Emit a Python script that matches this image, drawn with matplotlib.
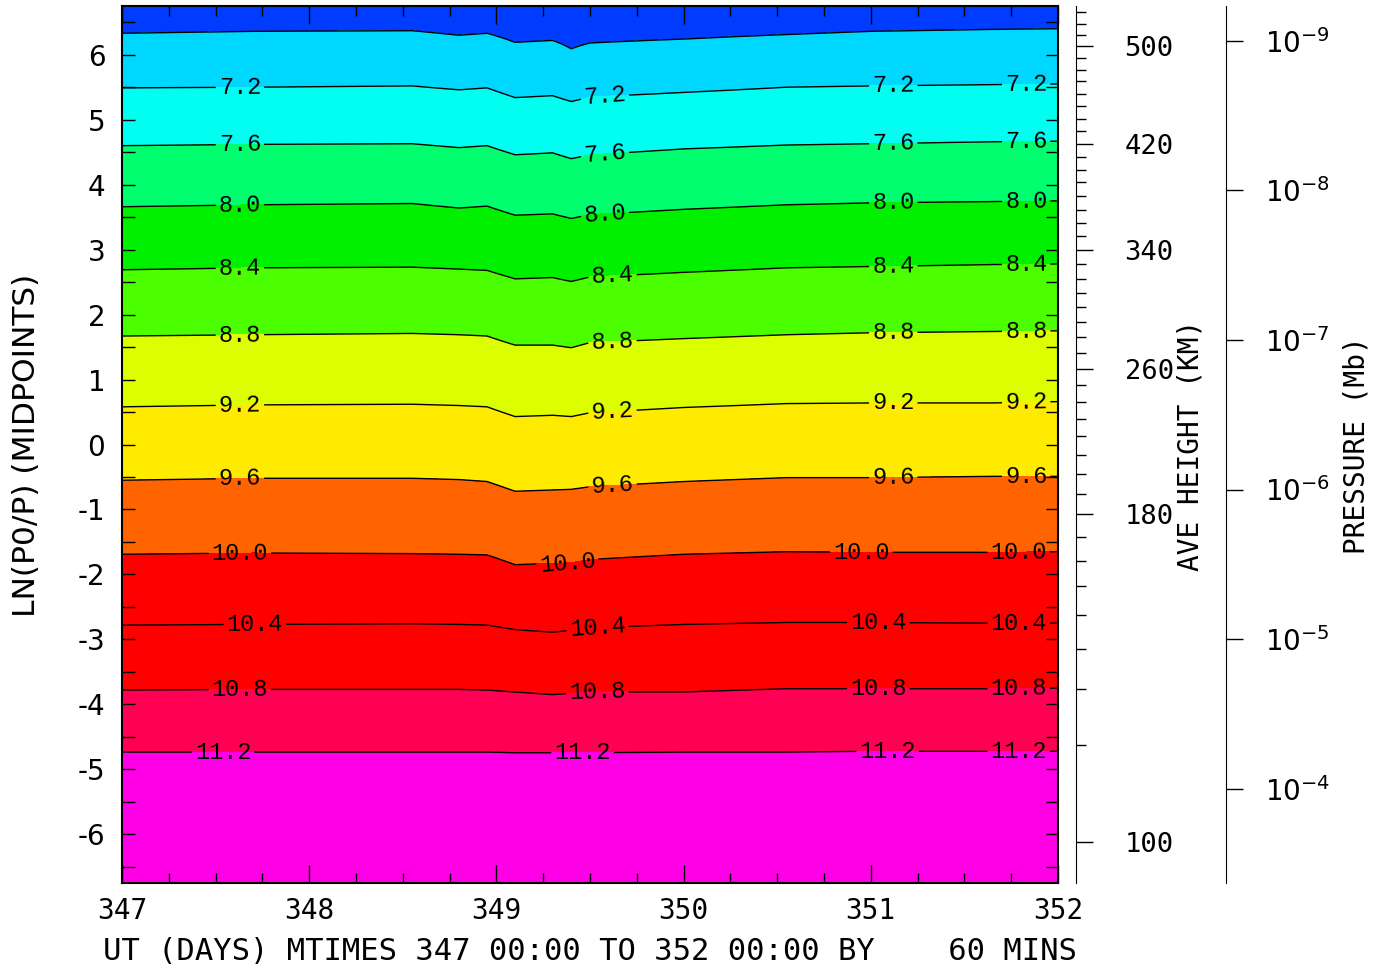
import numpy as np
import matplotlib.pyplot as plt

days = [347.0, 347.7, 348.55, 348.8, 348.95, 349.1, 349.3, 349.4, 349.5,
        350.0, 350.55, 351.0, 351.65, 352.0]

levels = [6.8, 7.2, 7.6, 8.0, 8.4, 8.8, 9.2, 9.6, 10.0, 10.4, 10.8, 11.2]

# LN(P0/P) position of each contour line at the days above
line_z = [
    [6.33, 6.36, 6.37, 6.30, 6.33, 6.19, 6.22, 6.09, 6.18, 6.24, 6.31, 6.36, 6.39, 6.40],
    [5.49, 5.50, 5.52, 5.46, 5.49, 5.34, 5.37, 5.28, 5.35, 5.42, 5.50, 5.52, 5.54, 5.55],
    [4.60, 4.62, 4.63, 4.57, 4.60, 4.46, 4.49, 4.40, 4.46, 4.55, 4.61, 4.63, 4.66, 4.67],
    [3.66, 3.69, 3.71, 3.64, 3.67, 3.53, 3.55, 3.48, 3.54, 3.62, 3.69, 3.72, 3.74, 3.75],
    [2.69, 2.72, 2.73, 2.70, 2.68, 2.55, 2.57, 2.51, 2.58, 2.65, 2.72, 2.74, 2.77, 2.78],
    [1.67, 1.69, 1.71, 1.69, 1.67, 1.53, 1.53, 1.49, 1.57, 1.63, 1.69, 1.72, 1.74, 1.75],
    [0.58, 0.61, 0.62, 0.60, 0.58, 0.43, 0.45, 0.43, 0.49, 0.57, 0.63, 0.64, 0.64, 0.66],
    [-0.55, -0.52, -0.52, -0.54, -0.57, -0.72, -0.70, -0.69, -0.65, -0.57, -0.51, -0.51, -0.49, -0.49],
    [-1.69, -1.67, -1.68, -1.69, -1.70, -1.85, -1.83, -1.82, -1.77, -1.69, -1.65, -1.66, -1.66, -1.65],
    [-2.78, -2.77, -2.76, -2.77, -2.78, -2.85, -2.89, -2.86, -2.82, -2.77, -2.74, -2.74, -2.75, -2.75],
    [-3.78, -3.77, -3.77, -3.77, -3.78, -3.81, -3.85, -3.83, -3.81, -3.81, -3.76, -3.76, -3.76, -3.75],
    [-4.73, -4.73, -4.73, -4.73, -4.73, -4.74, -4.74, -4.74, -4.74, -4.73, -4.73, -4.72, -4.72, -4.72],
]

# values just outside the plotted range (top / bottom)
edge_z = [7.2, -7.2]
edge_val = [6.4, 11.6]

band_colors = ['#003cff', '#00d7ff', '#00fff0', '#00ff6e', '#00f000', '#4bff00',
               '#dcff00', '#ffeb00', '#ff6400', '#ff0000', '#ff0000', '#ff0055', '#ff00e6']

# average height axis (km) and where each tick sits in LN(P0/P)
heights = [530, 520, 510, 500, 490, 480, 470, 460, 450, 440, 430, 420, 410, 400,
           390, 380, 370, 360, 350, 340, 330, 320, 310, 300, 290, 280, 270, 260,
           250, 240, 230, 220, 210, 200, 190, 180, 170, 160, 150, 140, 130, 120,
           110, 100]
height_z = [6.657, 6.477, 6.308, 6.128, 5.949, 5.769, 5.589, 5.395, 5.205, 5.015,
            4.820, 4.626, 4.420, 4.231, 4.035, 3.820, 3.615, 3.411, 3.205, 3.000,
            2.780, 2.554, 2.334, 2.118, 1.882, 1.657, 1.411, 1.165, 0.923, 0.657,
            0.395, 0.128, -0.165, -0.451, -0.758, -1.077, -1.426, -1.795, -2.180,
            -2.631, -3.154, -3.758, -4.626, -6.112]
height_major = [500, 420, 340, 260, 180, 100]

p0 = 5e-7  # mb
pressure_exp = [-9, -8, -7, -6, -5, -4]

day_ticks = [347, 348, 349, 350, 351, 352]

# label positions (days) along each labelled line (7.2 .. 11.2)
label_days = [
    [347.63, 349.58, 351.12, 351.83],
    [347.63, 349.58, 351.12, 351.83],
    [347.63, 349.58, 351.12, 351.83],
    [347.63, 349.62, 351.12, 351.83],
    [347.63, 349.62, 351.12, 351.83],
    [347.63, 349.62, 351.12, 351.83],
    [347.63, 349.62, 351.12, 351.83],
    [347.63, 349.38, 350.95, 351.79],
    [347.71, 349.54, 351.04, 351.79],
    [347.63, 349.54, 351.04, 351.79],
    [347.54, 349.46, 351.09, 351.79],
]

# ---- build field on (z, day) grid ----
zgrid = np.linspace(-6.75, 6.75, 541)
lz = np.array(line_z)
field = np.empty((len(zgrid), len(days)))
for j in range(len(days)):
    zp = np.concatenate(([edge_z[0]], lz[:, j], [edge_z[1]]))[::-1]
    vp = np.concatenate(([edge_val[0]], levels, [edge_val[1]]))[::-1]
    field[:, j] = np.interp(zgrid, zp, vp)

fig = plt.figure(figsize=(13.87, 9.73), dpi=100)
ax = fig.add_axes([122 / 1387, 90 / 973, 936 / 1387, 877 / 973])

ax.contourf(days, zgrid, field, levels=[6.0] + levels + [12.0], colors=band_colors)
ax.contour(days, zgrid, field, levels=levels[:1], colors='k', linewidths=1.0)
cs = ax.contour(days, zgrid, field, levels=levels[1:], colors='k', linewidths=1.0)

positions = []
for i in range(len(label_days)):
    for d in label_days[i]:
        positions.append((d, np.interp(d, days, lz[i + 1])))
plt.rcParams['font.family'] = 'Liberation Mono'
ax.clabel(cs, manual=positions, fmt='%.1f', inline=True,
          inline_spacing=3, fontsize=17)
plt.rcParams['font.family'] = 'DejaVu Sans'

ax.set_xlim(347, 352)
ax.set_ylim(-6.75, 6.75)
ax.set_xticks(day_ticks, [str(d) for d in day_ticks])
ax.set_xticks(np.arange(347, 352.01, 0.25), minor=True)
ax.set_yticks(np.arange(-6, 7, 1), [str(v) for v in range(-6, 7)])
ax.set_yticks(np.arange(-6.5, 6.6, 1.0), minor=True)
for s in ax.spines.values():
    s.set_linewidth(1.5)

# extra axes on the right
ax2 = ax.twinx()
ax2.set_ylim(-6.75, 6.75)
ax2.spines['right'].set_position(('axes', (1076 - 122) / 936))
for side in ['left', 'top', 'bottom']:
    ax2.spines[side].set_visible(False)
maj = [height_z[heights.index(h)] for h in height_major]
ax2.set_yticks(maj, [str(h) for h in height_major])
ax2.set_yticks([z for h, z in zip(heights, height_z) if h not in height_major], minor=True)
ax2.tick_params(axis='y', which='major', direction='out', length=12, width=1,
                labelsize=19.5, pad=23, labelfontfamily='DejaVu Sans Mono')
ax2.tick_params(axis='y', which='minor', direction='out', length=7, width=1)

ax3 = ax.twinx()
ax3.set_ylim(-6.75, 6.75)
ax3.spines['right'].set_position(('axes', (1226 - 122) / 936))
for side in ['left', 'top', 'bottom']:
    ax3.spines[side].set_visible(False)
ax3.set_yticks([np.log(p0 / 10.0 ** e) for e in pressure_exp],
               [r'$10^{%d}$' % e for e in pressure_exp])
ax3.tick_params(axis='y', which='major', direction='out', length=12, width=1,
                labelsize=20, pad=16)

ax.tick_params(axis='x', which='major', direction='in', length=13, width=1,
               top=True, labelsize=20, pad=10, labelfontfamily='DejaVu Sans Mono')
ax.tick_params(axis='x', which='minor', direction='in', length=7, width=1, top=True)
ax.tick_params(axis='y', which='both', direction='in', length=9, width=1,
               left=True, right=True, labelsize=20, pad=12)

fig.text(27 / 1387, 0.5427, 'LN(P0/P) (MIDPOINTS)', rotation=90, fontsize=22.5,
         ha='center', va='center')
fig.text(1190 / 1387, 0.5427, 'AVE HEIGHT (KM)', rotation=90, fontsize=20,
         family='DejaVu Sans Mono', ha='center', va='center')
fig.text(1357 / 1387, 0.5427, 'PRESSURE (Mb)', rotation=90, fontsize=20,
         family='DejaVu Sans Mono', ha='center', va='center')
fig.text(590 / 1387, (973 - 952) / 973,
         'UT (DAYS) MTIMES 347 00:00 TO 352 00:00 BY    60 MINS',
         fontsize=22, family='DejaVu Sans Mono', ha='center', va='center')

fig.savefig('out.png', dpi=100)
